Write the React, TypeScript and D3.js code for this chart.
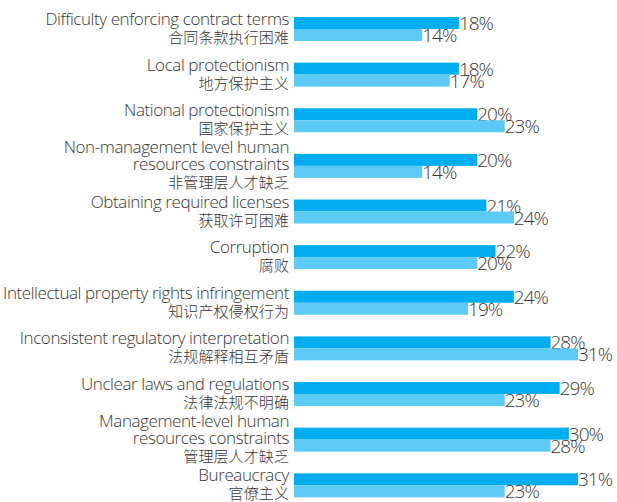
import React from "react";
import * as d3 from "d3";

const categoriesEn: string[][] = [
  ["Difficulty enforcing contract terms"],
  ["Local protectionism"],
  ["National protectionism"],
  ["Non-management level human", "resources constraints"],
  ["Obtaining required licenses"],
  ["Corruption"],
  ["Intellectual property rights infringement"],
  ["Inconsistent regulatory interpretation"],
  ["Unclear laws and regulations"],
  ["Management-level human", "resources constraints"],
  ["Bureaucracy"],
];
const categoriesZh: string[] = [
  "合同条款执行困难",
  "地方保护主义",
  "国家保护主义",
  "非管理层人才缺乏",
  "获取许可困难",
  "腐败",
  "知识产权侵权行为",
  "法规解释相互矛盾",
  "法律法规不明确",
  "管理层人才缺乏",
  "官僚主义",
];
const seriesA: number[] = [18, 18, 20, 20, 21, 22, 24, 28, 29, 30, 31];
const seriesB: number[] = [14, 17, 23, 14, 24, 20, 19, 31, 23, 28, 23];
const seriesKeys = ["a", "b"];
const colors = ["#00adee", "#5bcaf4"];

const W = 617;
const H = 502;
const FONT = "'Open Sans', 'Noto Sans', sans-serif";
const CJK = "'Noto Sans CJK SC', sans-serif";
const TEXT = "#363636";

export default function App() {
  const ids = categoriesZh.map((_, i) => String(i));
  const y = d3.scaleBand<string>().domain(ids).range([17, 497.3]).paddingInner(0.474).paddingOuter(0);
  const ySub = d3.scaleBand<string>().domain(seriesKeys).range([0, y.bandwidth()]);
  const x = d3.scaleLinear().domain([0, 31]).range([294, 578]);
  const lineH = 17;

  return (
    <svg width={W} height={H} style={{ position: "absolute", left: 0, top: 0, background: "#fff" }}>
      {ids.map((id, i) => {
        const y0 = y(id)!;
        const cy = y0 + y.bandwidth() / 2;
        const lines = [...categoriesEn[i], categoriesZh[i]];
        const n = lines.length;
        const vals = [seriesA[i], seriesB[i]];
        return (
          <g key={id}>
            {lines.map((t, j) => {
              const isZh = j === n - 1;
              return (
                <text
                  key={j}
                  x={289}
                  y={cy + (j - (n - 1) / 2) * lineH + (isZh ? 5.5 : 4.5)}
                  textAnchor="end"
                  fontFamily={isZh ? CJK : FONT}
                  fontSize={isZh ? 15 : 17}
                  fontWeight={300}
                  letterSpacing={isZh ? 0.1 : -0.42}
                  fill={TEXT}
                >
                  {t}
                </text>
              );
            })}
            {seriesKeys.map((k, s) => {
              const by = y0 + ySub(k)!;
              const v = vals[s];
              return (
                <g key={k}>
                  <rect x={x(0)} y={by} width={x(v) - x(0)} height={ySub.bandwidth()} fill={colors[s]} />
                  <text
                    x={x(v)}
                    y={by + ySub.bandwidth() + 1}
                    fontFamily={FONT}
                    fontSize={19}
                    fontWeight={300}
                    letterSpacing={-1}
                    fill={TEXT}
                  >
                    {v}%
                  </text>
                </g>
              );
            })}
          </g>
        );
      })}
    </svg>
  );
}
